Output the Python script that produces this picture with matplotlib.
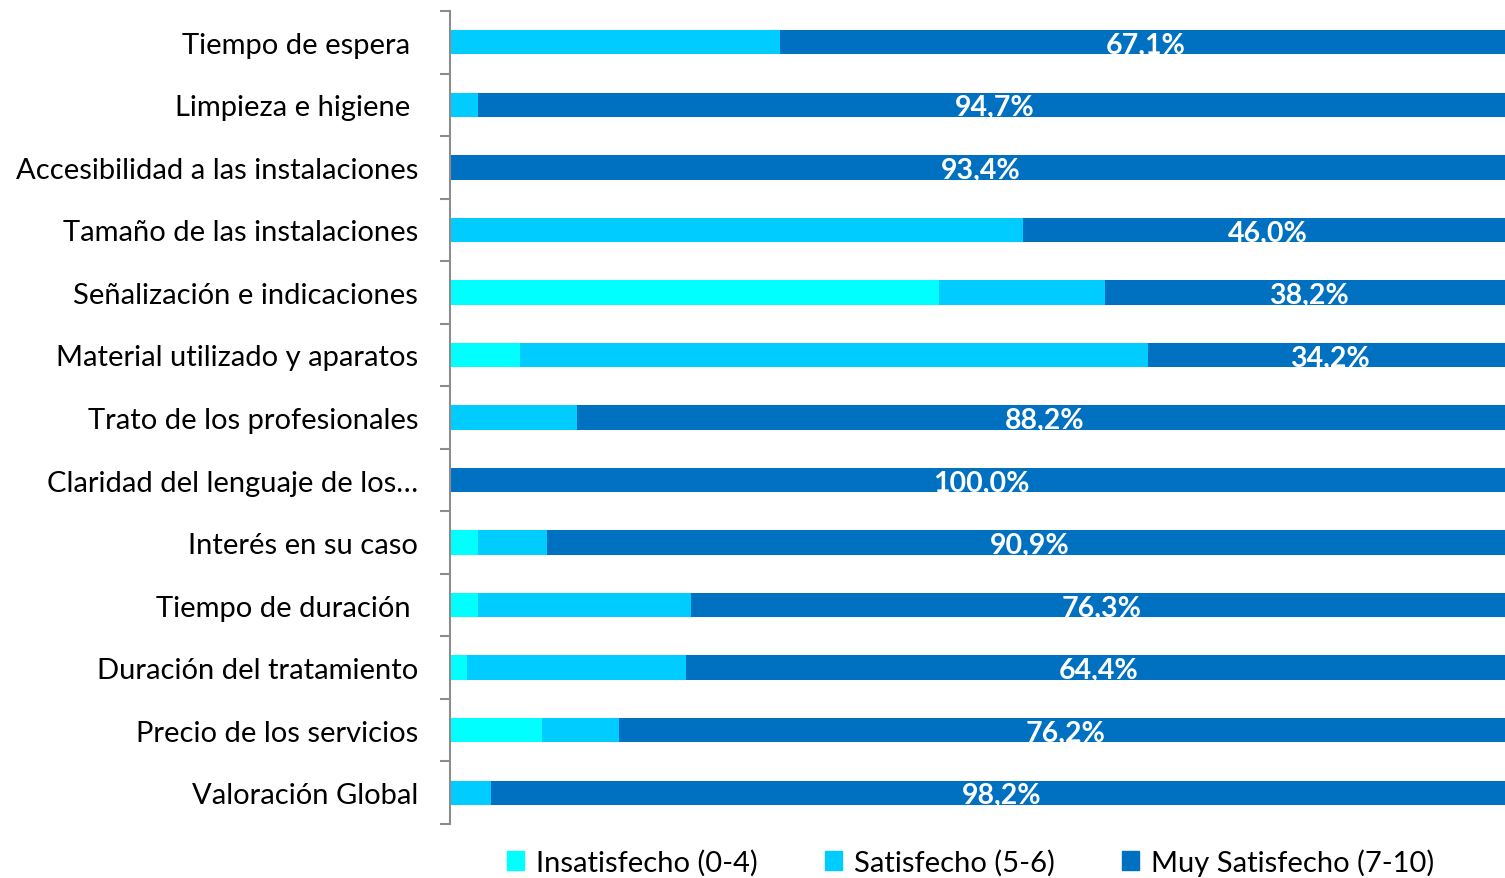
import numpy as np
import matplotlib.pyplot as plt
from matplotlib.patches import Patch

# categories, top to bottom
categorias = ["Tiempo de espera ", "Limpieza e higiene ", "Accesibilidad a las instalaciones",
              "Tamaño de las instalaciones", "Señalización e indicaciones",
              "Material utilizado y aparatos", "Trato de los profesionales",
              "Claridad del lenguaje de los…", "Interés en su caso", "Tiempo de duración ",
              "Duración del tratamiento", "Precio de los servicios", "Valoración Global"]

# segment widths (%)
insatisfecho = [0.0, 0.0, 0.0, 0.0, 46.0, 6.6, 0.0, 0.0, 2.6, 2.6, 1.6, 8.7, 0.0]
satisfecho = [31.1, 2.6, 0.0, 54.0, 15.7, 59.1, 12.0, 0.0, 6.5, 20.1, 20.6, 7.2, 3.9]
# data labels printed on the dark segment
etiquetas = [67.1, 94.7, 93.4, 46.0, 38.2, 34.2, 88.2, 100.0, 90.9, 76.3, 64.4, 76.2, 98.2]

series = ["Insatisfecho (0-4)", "Satisfecho (5-6)", "Muy Satisfecho (7-10)"]
colores = ["#00FFFF", "#00CCFF", "#0070C0"]

plt.rcParams['font.family'] = ['Lato', 'DejaVu Sans']

W, H = 1505, 879
fig = plt.figure(figsize=(W / 100, H / 100), dpi=100)
ax = fig.add_axes([450 / W, 1 - 825 / H, 1062 / W, 813 / H])

ins = np.array(insatisfecho)
sat = np.array(satisfecho)
muy = 100 - ins - sat
y = np.arange(len(categorias))
h = 0.39

ax.barh(y, ins, height=h, color=colores[0])
ax.barh(y, sat, left=ins, height=h, color=colores[1])
ax.barh(y, muy, left=ins + sat, height=h, color=colores[2])

for i, v in enumerate(etiquetas):
    xc = ins[i] + sat[i] + muy[i] / 2
    ax.text(xc, y[i] + 0.04, f"{v:.1f}%".replace(".", ","), ha="center", va="center",
            color="white", fontsize=20.5, fontweight="bold")

ax.set_xlim(0, 100)
ax.set_ylim(len(categorias) - 0.5, -0.5)
ax.set_yticks(y)
ax.set_yticklabels(categorias, fontsize=21)
ax.tick_params(axis="y", which="major", length=0, pad=23)
ax.set_yticks(np.arange(-0.5, len(categorias)), minor=True)
ax.tick_params(axis="y", which="minor", length=7, color="#8c8c8c", width=1.5)
ax.set_xticks([])
for s in ["top", "right", "bottom"]:
    ax.spines[s].set_visible(False)
ax.spines["left"].set_color("#8c8c8c")
ax.spines["left"].set_linewidth(1.5)

handles = [Patch(color=c, label=l) for c, l in zip(colores, series)]
ax.legend(handles=handles, loc="center", bbox_to_anchor=(0.49, -38 / 813), ncol=3,
          frameon=False, fontsize=21, handlelength=0.6, handleheight=0.6,
          handletextpad=0.4, columnspacing=2.3)

fig.savefig("out.png", dpi=100)
